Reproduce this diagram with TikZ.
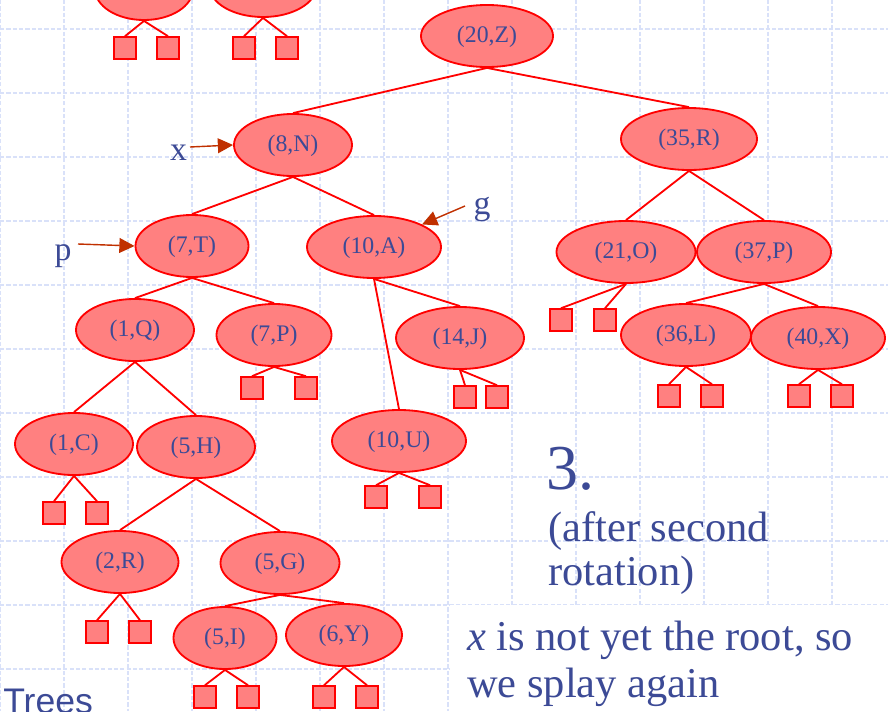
\documentclass[tikz,border=0pt]{standalone}
\usepackage{fontspec}
\setmainfont{Liberation Serif}
\setsansfont{Liberation Sans}
\usepackage{tikz}
\usetikzlibrary{positioning, arrows.meta, shapes.geometric}
\usepackage{xcolor}

\definecolor{keyfill}{HTML}{FF8080}
\definecolor{keyline}{HTML}{FF0000}
\definecolor{inkblue}{HTML}{3C4A96}
\definecolor{arrowred}{HTML}{C03000}
\definecolor{gridblue}{HTML}{D9E1F9}

\begin{document}
\begin{tikzpicture}[
      x=0.025cm, y=-0.025cm,
      keynode/.style={
        ellipse,
        draw=keyline,
        line width=1.3pt,
        fill=keyfill,
        text=inkblue,
        inner sep=0pt,
        minimum height=1.55cm,
        text height=1.15em,
        text depth=0.2em,
        font=\fontsize{16.9}{20}\selectfont,
      },
      leaf/.style={
        rectangle,
        draw=keyline,
        line width=1.4pt,
        fill=keyfill,
        minimum size=0.54cm,
        inner sep=0pt,
      },
      branch/.style={draw=keyline, line width=1.3pt},
      pointer/.style={
        draw=arrowred,
        line width=1pt,
        -{Triangle[length=0.38cm, width=0.37cm]},
      },
      pointerlabel/.style={
        anchor=base,
        text=inkblue,
        inner sep=0pt,
        font=\fontsize{24}{28}\selectfont,
      },
      note/.style={
        anchor=base west,
        align=left,
        text=inkblue,
        inner sep=0pt,
      },
      gridline/.style={draw=gridblue, line width=1.1pt, dash pattern=on 3pt off 1.5pt},
    ]
      \useasboundingbox (0,0) rectangle (888,711);

      % background grid
      \foreach \gx in {0,64,...,832}
        \draw[gridline] (\gx,0) -- (\gx,711);
      \foreach \gy in {29,93,...,669}
        \draw[gridline] (0,\gy) -- (888,\gy);

      % white panel behind the remark
      \fill[white] (450,605) rectangle (888,711);

      % partial nodes at the top edge
      \node[keynode, minimum width=2.45cm] (topa) at (144,-11) {};
      \node[keynode, minimum width=2.675cm] (topb) at (263,-14) {};

      % internal nodes
      \node[keynode, minimum width=3.3cm] (z20) at (487,36) {(20,Z)};
      \node[keynode, minimum width=2.95cm] (n8) at (293,145) {(8,N)};
      \node[keynode, minimum width=3.4cm] (r35) at (689,139) {(35,R)};
      \node[keynode, minimum width=2.825cm] (t7) at (192,246) {(7,T)};
      \node[keynode, minimum width=3.35cm] (a10) at (374,247) {(10,A)};
      \node[keynode, minimum width=3.475cm] (o21) at (626,252) {(21,O)};
      \node[keynode, minimum width=3.35cm] (p37) at (764,252) {(37,P)};
      \node[keynode, minimum width=2.95cm] (q1) at (135,330) {(1,Q)};
      \node[keynode, minimum width=2.875cm] (p7) at (274,335) {(7,P)};
      \node[keynode, minimum width=3.2cm] (j14) at (460,338) {(14,J)};
      \node[keynode, minimum width=3.25cm] (l36) at (686,335) {(36,L)};
      \node[keynode, minimum width=3.35cm] (x40) at (818,338) {(40,X)};
      \node[keynode, minimum width=2.95cm] (c1) at (74,444) {(1,C)};
      \node[keynode, minimum width=2.95cm] (h5) at (196,447) {(5,H)};
      \node[keynode, minimum width=3.35cm] (u10) at (399,441) {(10,U)};
      \node[keynode, minimum width=2.925cm] (r2) at (120,562) {(2,R)};
      \node[keynode, minimum width=2.975cm] (g5) at (280,563) {(5,G)};
      \node[keynode, minimum width=2.575cm] (i5) at (225,638) {(5,I)};
      \node[keynode, minimum width=2.9cm] (y6) at (344,635) {(6,Y)};

      % branches between keys
      \draw[branch] (z20.south) -- (n8.north);
      \draw[branch] (z20.south) -- (r35.north);
      \draw[branch] (n8.south) -- (t7.north);
      \draw[branch] (n8.south) -- (a10.north);
      \draw[branch] (r35.south) -- (o21.north);
      \draw[branch] (r35.south) -- (p37.north);
      \draw[branch] (t7.south) -- (q1.north);
      \draw[branch] (t7.south) -- (p7.north);
      \draw[branch] (a10.south) -- (u10.north);
      \draw[branch] (a10.south) -- (j14.north);
      \draw[branch] (p37.south) -- (l36.north);
      \draw[branch] (p37.south) -- (x40.north);
      \draw[branch] (q1.south) -- (c1.north);
      \draw[branch] (q1.south) -- (h5.north);
      \draw[branch] (h5.south) -- (r2.north);
      \draw[branch] (h5.south) -- (g5.north);
      \draw[branch] (g5.south) -- (i5.north);
      \draw[branch] (g5.south) -- (y6.north);

      % external leaves
      \foreach \pa/\xa/\xb/\ly in {topa/125/168/48, topb/244/287/48,
          p7/252/306/388, j14/465/497/397, o21/561/605/320,
          l36/669/712/396, x40/799/842/396, c1/54/97/513,
          u10/376/430/497, r2/97/140/632, i5/205/248/697, y6/324/367/697} {
        \node[leaf] (\pa-l) at (\xa,\ly) {};
        \node[leaf] (\pa-r) at (\xb,\ly) {};
        \draw[branch] (\pa.south) -- (\pa-l.north);
        \draw[branch] (\pa.south) -- (\pa-r.north);
      }

      % pointers
      \coordinate (xtail) at (190,147);
      \coordinate (ptail) at (78,244);
      \coordinate (gtail) at (465,206);
      \draw[pointer] (xtail) -- (n8.west);
      \draw[pointer] (ptail) -- (t7.west);
      \draw[pointer] (gtail) -- (a10.north east);
      \node[pointerlabel] (xlbl) at (178.5,160) {x};
      \node[pointerlabel] (plbl) at (63,260) {p};
      \node[pointerlabel] (glbl) at (482,214) {g};

      % step caption (base anchor sits on the last line)
      \node[note, font=\fontsize{45.5}{50}\selectfont] (step) at (546,489) {3.};
      \node[note, font=\fontsize{30.2}{30.6}\selectfont] (after) at (548,585) {(after second\\rotation)};
      \node[note, font=\fontsize{30.2}{33.4}\selectfont] (remark) at (467,697) {\textit{x} is not yet the root, so\\we splay again};

      % slide footer
      \node[note, font=\sffamily\fontsize{25.3}{30}\selectfont] (footer) at (3,713.5) {Trees};
    \end{tikzpicture}
\end{document}
